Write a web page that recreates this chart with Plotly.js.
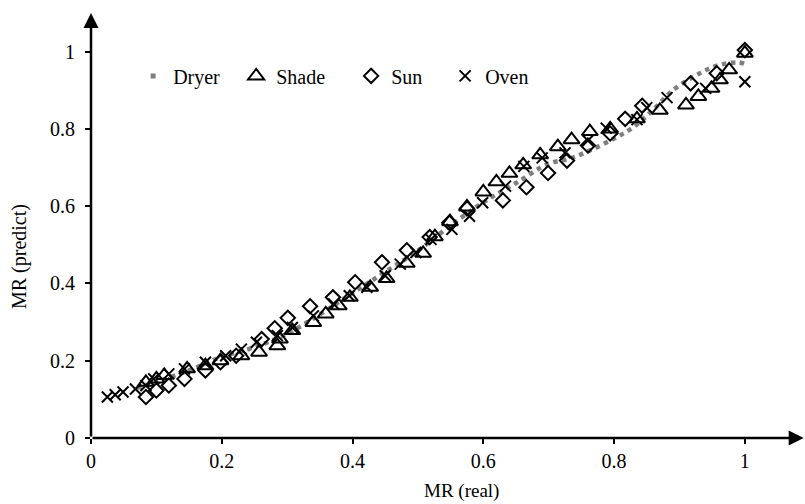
<!DOCTYPE html>
<html>
<head>
<meta charset="utf-8">
<script src="https://cdn.plot.ly/plotly-3.0.1.min.js"></script>
<style>html,body{margin:0;padding:0;background:#fff;}#chart{width:805px;height:504px;}</style>
</head>
<body>
<div id="chart"></div>
<script>
// Dryer (predicted curve, gray dotted)
const dryerX = [0.07,0.10,0.15,0.20,0.25,0.30,0.35,0.40,0.45,0.50,0.55,0.60,0.65,0.70,0.73,0.76,0.80,0.83,0.86,0.89,0.93,0.96,0.99,1.00];
const dryerY = [0.13,0.145,0.175,0.21,0.235,0.27,0.32,0.375,0.43,0.485,0.55,0.61,0.66,0.71,0.722,0.742,0.775,0.805,0.85,0.90,0.943,0.965,0.972,0.968];

// Shade (triangles)
const shadeX = [0.084,0.10,0.112,0.147,0.175,0.198,0.23,0.257,0.285,0.289,0.308,0.34,0.359,0.379,0.396,0.427,0.452,0.483,0.508,0.526,0.549,0.575,0.60,0.62,0.64,0.661,0.687,0.714,0.735,0.763,0.794,0.835,0.87,0.91,0.929,0.949,0.962,0.976,1.0];
const shadeY = [0.144,0.153,0.162,0.179,0.187,0.20,0.213,0.222,0.239,0.256,0.278,0.299,0.321,0.342,0.364,0.39,0.413,0.452,0.478,0.521,0.56,0.598,0.637,0.663,0.685,0.707,0.733,0.754,0.772,0.793,0.80,0.826,0.848,0.862,0.884,0.905,0.927,0.953,0.996];

// Sun (diamonds)
const sunX = [0.084,0.10,0.119,0.143,0.175,0.198,0.222,0.261,0.281,0.301,0.335,0.37,0.404,0.445,0.483,0.518,0.548,0.575,0.63,0.666,0.699,0.728,0.76,0.794,0.817,0.843,0.917,0.957,1.0];
const sunY = [0.106,0.123,0.136,0.153,0.175,0.196,0.213,0.256,0.284,0.311,0.341,0.364,0.403,0.455,0.486,0.52,0.557,0.594,0.615,0.649,0.686,0.718,0.757,0.788,0.826,0.86,0.918,0.944,1.004];

// Oven (crosses)
const ovenX = [0.025,0.037,0.049,0.068,0.084,0.096,0.119,0.143,0.175,0.206,0.23,0.253,0.285,0.308,0.34,0.371,0.395,0.422,0.45,0.473,0.497,0.52,0.552,0.579,0.599,0.634,0.662,0.69,0.725,0.76,0.788,0.835,0.85,0.881,0.94,1.0];
const ovenY = [0.106,0.112,0.119,0.127,0.136,0.153,0.166,0.179,0.196,0.213,0.23,0.248,0.265,0.286,0.316,0.347,0.368,0.39,0.42,0.45,0.48,0.514,0.54,0.574,0.609,0.652,0.703,0.725,0.738,0.77,0.802,0.824,0.855,0.881,0.905,0.922];

const tickVals = [0,0.2,0.4,0.6,0.8,1];
const tickText = ['0','0.2','0.4','0.6','0.8','1'];

const FONT = 'Times New Roman';
const mk = (symbol, size) => ({symbol: symbol, size: size, color: '#000', line: {color: '#000', width: 2}});

const traces = [
  {x: dryerX, y: dryerY, mode: 'lines', line: {color: '#7f7f7f', width: 4.5, dash: 'dot', shape: 'spline'}, showlegend: false, hoverinfo: 'skip'},
  {x: [null], y: [null], mode: 'markers', name: 'Dryer', legendwidth: 58, marker: {symbol: 'square', size: 5, color: '#7f7f7f'}},
  {x: shadeX, y: shadeY, mode: 'markers', name: 'Shade', legendwidth: 70, marker: mk('triangle-up-open', 14)},
  {x: sunX, y: sunY, mode: 'markers', name: 'Sun', legendwidth: 49, marker: mk('diamond-open', 11)},
  {x: ovenX, y: ovenY, mode: 'markers', name: 'Oven', legendwidth: 60, marker: mk('x-thin-open', 11)}
];

const layout = {
  width: 805, height: 504,
  margin: {l: 91, r: 0, t: 13, b: 66},
  paper_bgcolor: '#fff', plot_bgcolor: '#fff',
  font: {family: FONT, size: 20, color: '#000'},
  showlegend: true,
  legend: {orientation: 'h', x: 0.059, xanchor: 'left', y: 0.852, yanchor: 'middle',
           font: {family: FONT, size: 20, color: '#000'}, bgcolor: 'rgba(0,0,0,0)'},
  xaxis: {range: [0, 1.092], showgrid: false, zeroline: false, showline: false,
          ticks: 'outside', ticklen: 5, tickwidth: 2, tickcolor: '#000',
          tickvals: tickVals, ticktext: tickText, tickfont: {family: FONT, size: 20}},
  yaxis: {range: [0, 1.1], showgrid: false, zeroline: false, showline: false,
          ticks: 'outside', ticklen: 5, tickwidth: 2, tickcolor: '#000',
          tickvals: tickVals, ticktext: tickText, tickfont: {family: FONT, size: 20},
          ticklabelstandoff: 6},
  annotations: [
    {x: 1.09, y: 0, xref: 'x', yref: 'y', ax: 0, ay: 0, axref: 'x', ayref: 'y', text: '',
     showarrow: true, arrowhead: 2, arrowsize: 1.2, arrowwidth: 2.5, arrowcolor: '#000', standoff: 0},
    {x: 0, y: 1.1, xref: 'x', yref: 'y', ax: 0, ay: 0, axref: 'x', ayref: 'y', text: '',
     showarrow: true, arrowhead: 2, arrowsize: 1.2, arrowwidth: 2.5, arrowcolor: '#000', standoff: 0},
    {x: 0.567, y: -0.125, xref: 'x', yref: 'paper', yanchor: 'middle', showarrow: false,
     text: 'MR (real)', font: {family: FONT, size: 19, color: '#000'}},
    {x: -0.1, y: 0.47, xref: 'paper', yref: 'y', xanchor: 'center', textangle: -90, showarrow: false,
     text: 'MR (predict)', font: {family: FONT, size: 20, color: '#000'}}
  ]
};

Plotly.newPlot('chart', traces, layout, {displayModeBar: false, staticPlot: true});
</script>
</body>
</html>
